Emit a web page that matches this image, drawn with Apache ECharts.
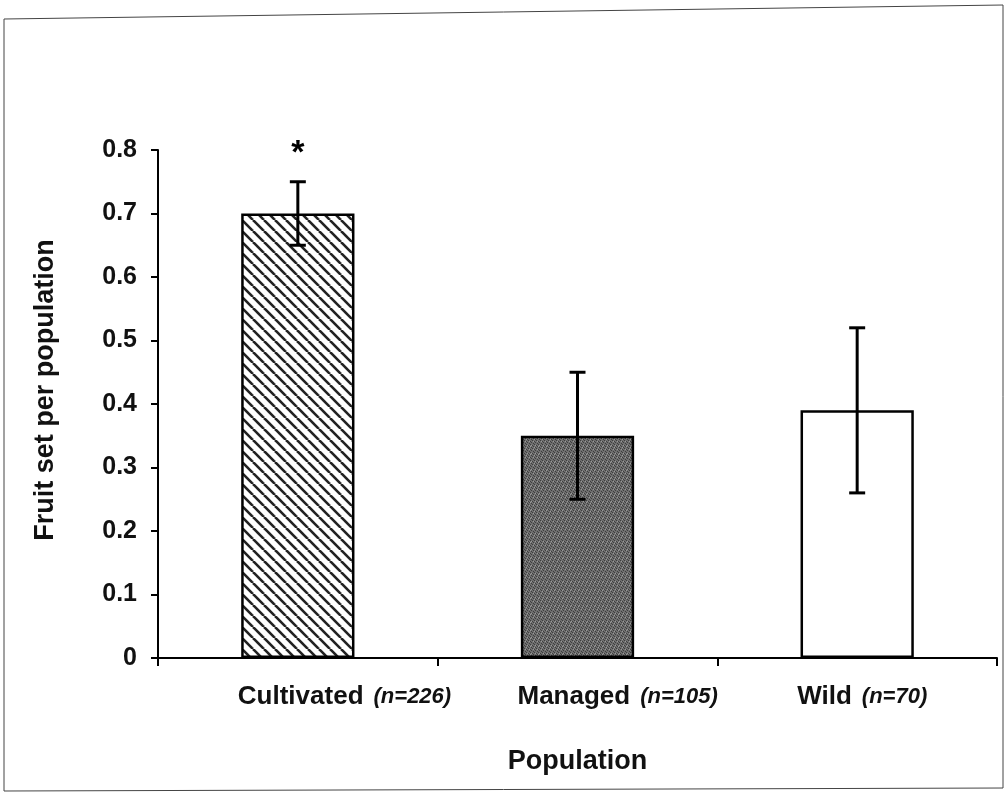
<!DOCTYPE html>
<html><head><meta charset="utf-8">
<script src="https://cdn.jsdelivr.net/npm/echarts@6/dist/echarts.min.js"></script>
<style>html,body{margin:0;padding:0;background:#fff}#c{width:1005px;height:795px}</style>
</head><body><div id="c"></div>
<script>
const categories = ['Cultivated', 'Managed', 'Wild'];
const sampleSizes = ['(n=226)', '(n=105)', '(n=70)'];
const meanValues = [0.70, 0.35, 0.39];
const errorValues = [0.05, 0.10, 0.13];
const significance = ['*', '', ''];
const yTicks = [0, 0.1, 0.2, 0.3, 0.4, 0.5, 0.6, 0.7, 0.8];

function hatchPattern() {
  const s = 11, c = document.createElement('canvas');
  c.width = s; c.height = s;
  const g = c.getContext('2d');
  g.fillStyle = '#ffffff'; g.fillRect(0, 0, s, s);
  g.strokeStyle = '#222'; g.lineWidth = 2.6;
  for (let k = -1; k <= 1; k++) {
    g.beginPath(); g.moveTo(k * s, 0); g.lineTo(k * s + s, s); g.stroke();
  }
  return c;
}
function greyPattern() {
  const s = 8, c = document.createElement('canvas');
  c.width = s; c.height = s;
  const g = c.getContext('2d');
  g.fillStyle = '#6f6f6f'; g.fillRect(0, 0, s, s);
  g.fillStyle = '#3e3e3e';
  const dots = [[0,0],[2,1],[4,0],[6,1],[1,3],[3,2],[5,3],[7,2],[0,5],[2,4],[4,5],[6,4],[1,6],[3,7],[5,6],[7,7]];
  dots.forEach(d => g.fillRect(d[0], d[1], 1, 1));
  g.fillStyle = '#9a9a9a';
  [[1,1],[5,1],[3,5],[7,5],[6,7],[2,6]].forEach(d => g.fillRect(d[0], d[1], 1, 1));
  return c;
}
const fills = [
  { image: hatchPattern(), repeat: 'repeat' },
  { image: greyPattern(), repeat: 'repeat' },
  '#ffffff'
];

const chart = echarts.init(document.getElementById('c'));
const font = '"Liberation Sans", Arial, sans-serif';
chart.setOption({
  animation: false,
  graphic: [{
    type: 'polygon',
    shape: { points: [[4, 19], [1003, 5], [1003, 788], [4, 791]] },
    style: { fill: 'none', stroke: '#444', lineWidth: 1 },
    silent: true
  }],
  grid: { left: 158, right: 8, top: 150, bottom: 137 },
  xAxis: {
    type: 'category',
    data: categories.map((c, i) => c + '|' + sampleSizes[i]),
    axisLine: { lineStyle: { color: '#000', width: 2 } },
    axisTick: { show: true, length: 8, lineStyle: { color: '#000', width: 2 } },
    axisLabel: {
      margin: 26,
      align: 'left',
      padding: [0, 0, 0, -60],
      formatter: v => { const p = v.split('|'); return '{a|' + p[0] + '}{b|' + p[1] + '}'; },
      rich: {
        a: { fontFamily: font, fontWeight: 'bold', fontSize: 26, color: '#111', padding: [0, 10, 0, 0] },
        b: { fontFamily: font, fontWeight: 'bold', fontStyle: 'italic', fontSize: 22, color: '#111' }
      }
    },
    name: 'Population',
    nameLocation: 'middle',
    nameGap: 90,
    nameTextStyle: { fontFamily: font, fontWeight: 'bold', fontSize: 27, color: '#111' }
  },
  yAxis: {
    type: 'value',
    min: yTicks[0], max: yTicks[yTicks.length - 1], interval: 0.1,
    axisLine: { show: true, lineStyle: { color: '#000', width: 2 } },
    axisTick: { show: true, length: 7, lineStyle: { color: '#000', width: 2 } },
    splitLine: { show: false },
    axisLabel: {
      margin: 21,
      formatter: v => String(+v.toFixed(1)),
      fontFamily: font, fontWeight: 'bold', fontSize: 25, color: '#111'
    },
    name: 'Fruit set per population',
    nameLocation: 'middle',
    nameGap: 99,
    nameTextStyle: { fontFamily: font, fontWeight: 'bold', fontSize: 27, color: '#111', padding: [0, 0, 0, 28] }
  },
  series: [{
    type: 'bar',
    data: meanValues.map((v, i) => ({ value: v, itemStyle: { color: fills[i] } })),
    barWidth: '40.5%',
    itemStyle: { borderColor: '#000', borderWidth: 2.5 },
    z: 2
  }, {
    type: 'custom',
    z: 5,
    data: meanValues.map((v, i) => [i, v, errorValues[i], significance[i]]),
    renderItem: (params, api) => {
      const x = api.value(0), m = api.value(1), e = api.value(2);
      const top = api.coord([x, m + e]), bot = api.coord([x, m - e]);
      const cw = 8;
      const st = { stroke: '#000', lineWidth: 3 };
      const children = [
        { type: 'line', shape: { x1: top[0], y1: top[1], x2: bot[0], y2: bot[1] }, style: st },
        { type: 'line', shape: { x1: top[0] - cw, y1: top[1], x2: top[0] + cw, y2: top[1] }, style: st },
        { type: 'line', shape: { x1: bot[0] - cw, y1: bot[1], x2: bot[0] + cw, y2: bot[1] }, style: st }
      ];
      const sig = significance[params.dataIndex];
      if (sig) {
        children.push({ type: 'text', x: top[0], y: top[1] - 11,
          style: { text: sig, fontFamily: font, fontWeight: 'bold', fontSize: 34, fill: '#000', align: 'center', verticalAlign: 'bottom' } });
      }
      return { type: 'group', children };
    }
  }]
});
</script></body></html>
